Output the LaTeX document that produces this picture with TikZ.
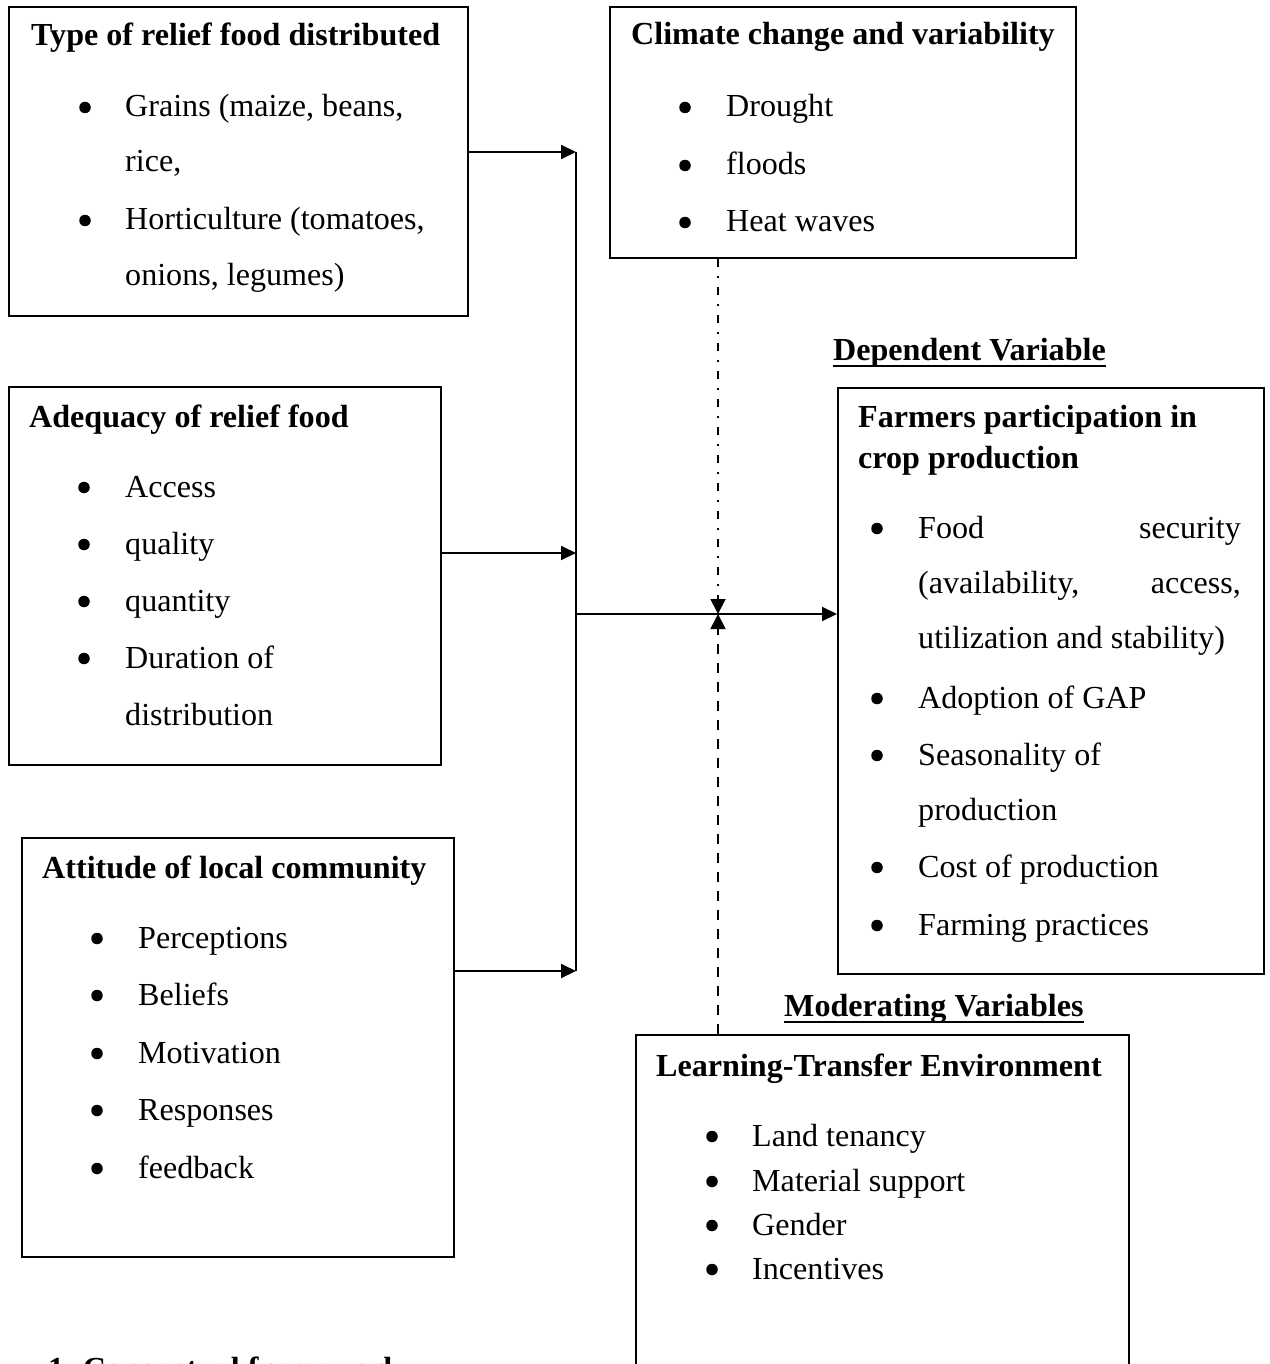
\documentclass[tikz,border=0pt]{standalone}
\usepackage{fontspec}
\setmainfont{Liberation Serif}
\usetikzlibrary{arrows.meta}
\newcommand\fsz{\fontsize{32.1}{39}\selectfont}
\begin{document}
\begin{tikzpicture}[x=1pt,y=-1pt,
  boxnode/.style={draw, line width=1.8pt, inner sep=0pt, anchor=north west},
  ttl/.style={anchor=base west, inner sep=0pt, font=\fsz\bfseries},
  itm/.style={anchor=base west, inner sep=0pt, font=\fsz},
  itmr/.style={anchor=base east, inner sep=0pt, font=\fsz},
  bul/.style={circle, fill=black, inner sep=0pt, minimum size=11.5pt, yshift=9.5pt},
  conn/.style={line width=1.9pt, -{Triangle[length=15pt,width=14pt]}},
  plain/.style={line width=1.7pt},
  dashdot/.style={line width=1.8pt, dash pattern=on 8pt off 9pt on 2pt off 9pt, -{Triangle[length=15pt,width=15pt]}},
  dashline/.style={line width=1.8pt, dash pattern=on 10pt off 9pt, -{Triangle[length=15pt,width=15pt]}},
  uline/.style={line width=2.3pt}]
\useasboundingbox[fill=white] (0,0) rectangle (1269,1364);

% boxes
\node[boxnode, minimum width=459pt, minimum height=309pt] (b1) at (8,6) {};
\node[boxnode, minimum width=466pt, minimum height=251pt] (b2) at (609,6) {};
\node[boxnode, minimum width=432pt, minimum height=378pt] (b3) at (8,386) {};
\node[boxnode, minimum width=432pt, minimum height=419pt] (b4) at (21,837) {};
\node[boxnode, minimum width=426pt, minimum height=586pt] (b5) at (837,387) {};
\node[boxnode, minimum width=493pt, minimum height=380pt] (b6) at (635,1034) {};

% box 1
\node[ttl] (t1) at (31,46) {Type of relief food distributed};
\node[bul] (b1a) at (85,117) {};
\node[itm] (i1a) at (125,117) {Grains (maize, beans,};
\node[itm] (i1b) at (125,172) {rice,};
\node[bul] (b1c) at (85,230) {};
\node[itm] (i1c) at (125,230) {Horticulture (tomatoes,};
\node[itm] (i1d) at (125,285) {onions, legumes)};

% box 2
\node[ttl] (t2) at (631,45) {Climate change and variability};
\node[bul] (b2a) at (685,117) {};
\node[itm] (i2a) at (726,117) {Drought};
\node[bul] (b2b) at (685,175) {};
\node[itm] (i2b) at (726,175) {floods};
\node[bul] (b2c) at (685,232) {};
\node[itm] (i2c) at (726,232) {Heat waves};

% box 3
\node[ttl] (t3) at (29,427) {Adequacy of relief food};
\node[bul] (b3a) at (84,497) {};
\node[itm] (i3a) at (125,497) {Access};
\node[bul] (b3b) at (84,554) {};
\node[itm] (i3b) at (125,554) {quality};
\node[bul] (b3c) at (84,611) {};
\node[itm] (i3c) at (125,611) {quantity};
\node[bul] (b3d) at (84,668) {};
\node[itm] (i3d) at (125,668) {Duration of};
\node[itm] (i3e) at (125,725) {distribution};

% box 4
\node[ttl] (t4) at (42,878) {Attitude of local community};
\node[bul] (b4a) at (97,948) {};
\node[itm] (i4a) at (138,948) {Perceptions};
\node[bul] (b4b) at (97,1005) {};
\node[itm] (i4b) at (138,1005) {Beliefs};
\node[bul] (b4c) at (97,1063) {};
\node[itm] (i4c) at (138,1063) {Motivation};
\node[bul] (b4d) at (97,1120) {};
\node[itm] (i4d) at (138,1120) {Responses};
\node[bul] (b4e) at (97,1178) {};
\node[itm] (i4e) at (138,1178) {feedback};

% dependent variable
\node[ttl] (dv) at (833,360) {Dependent Variable};
\draw[uline] ([yshift=-6pt]dv.base west) -- ([yshift=-6pt]dv.base east);

% box 5
\node[ttl] (t5a) at (858,427) {Farmers participation in};
\node[ttl] (t5b) at (858,468) {crop production};
\node[bul] (b5a) at (877,538) {};
\node[itm] (i5a) at (918,538) {Food};
\node[itmr] (i5ar) at (1241,538) {security};
\node[itm] (i5b) at (918,593) {(availability,};
\node[itmr] (i5br) at (1241,593) {access,};
\node[itm] (i5c) at (918,648) {utilization and stability)};
\node[bul] (b5d) at (877,708) {};
\node[itm] (i5d) at (918,708) {Adoption of GAP};
\node[bul] (b5e) at (877,765) {};
\node[itm] (i5e) at (918,765) {Seasonality of};
\node[itm] (i5f) at (918,820) {production};
\node[bul] (b5g) at (877,877) {};
\node[itm] (i5g) at (918,877) {Cost of production};
\node[bul] (b5h) at (877,935) {};
\node[itm] (i5h) at (918,935) {Farming practices};

% moderating variables
\node[ttl] (mv) at (784,1016) {Moderating Variables};
\draw[uline] ([yshift=-6pt]mv.base west) -- ([yshift=-6pt]mv.base east);

% box 6
\node[ttl] (t6) at (656,1076) {Learning-Transfer Environment};
\node[bul] (b6a) at (712,1146) {};
\node[itm] (i6a) at (752,1146) {Land tenancy};
\node[bul] (b6b) at (712,1191) {};
\node[itm] (i6b) at (752,1191) {Material support};
\node[bul] (b6c) at (712,1235) {};
\node[itm] (i6c) at (752,1235) {Gender};
\node[bul] (b6d) at (712,1279) {};
\node[itm] (i6d) at (752,1279) {Incentives};

% caption (cut off by the page edge, as in the reference)
\node[ttl] (cap) at (48,1379) {1. Conceptual framework};

% connectors
\coordinate (jt) at (576,152);
\coordinate (jc) at (576,553);
\coordinate (jb) at (576,971);
\coordinate (jm) at (576,614);
\coordinate (cx) at (718,614);
\draw[plain] (jt) -- (jb);
\draw[conn] (b1.east |- jt) -- (jt);
\draw[conn] (b3.east |- jc) -- (jc);
\draw[conn] (b4.east |- jb) -- (jb);
\draw[conn] (jm) -- (b5.west |- jm);
\draw[dashdot] (b2.south -| cx) -- (cx);
\draw[dashline] (b6.north -| cx) -- (cx);
\end{tikzpicture}
\end{document}
